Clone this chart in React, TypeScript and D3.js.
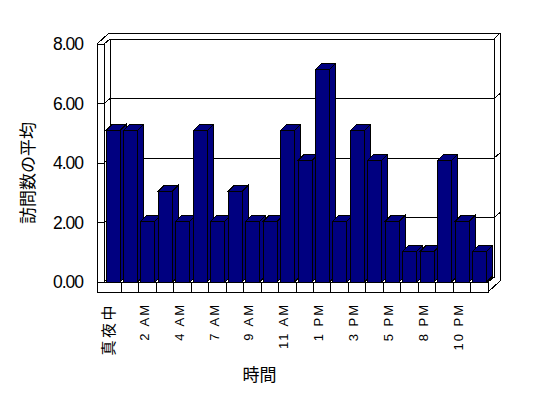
import * as d3 from "d3";

const categories = [
  "真夜中", "1 AM", "2 AM", "3 AM", "4 AM", "5 AM", "7 AM", "8 AM", "9 AM", "10 AM", "11 AM",
  "正午", "1 PM", "2 PM", "3 PM", "4 PM", "5 PM", "6 PM", "8 PM", "9 PM", "10 PM", "11 PM",
];
const visits = [
  5.09, 5.09, 2.04, 3.05, 2.04, 5.09, 2.04, 3.05, 2.04, 2.04, 5.09,
  4.09, 7.14, 2.04, 5.09, 4.09, 2.04, 1.03, 1.03, 4.09, 2.04, 1.03,
];
const yTicks = [0, 2, 4, 6, 8];
const yTitle = "訪問数の平均";
const xTitle = "時間";

const W = 548;
const H = 398;

export default function App() {
  // inner front plane of the 3d box
  const left = 104, right = 488, bottom = 282, top = 44;
  const wallT = 7; // left wall thickness
  const dx = 6, dy = -5; // wall depth
  const bt = 6; // back wall thickness
  const bx = 6, by = -6; // bar depth
  const barW = 14;

  const x = d3.scaleBand<string>().domain(categories).range([left, right]).padding(0);
  const y = d3.scaleLinear().domain([0, 8]).range([bottom, top]);

  const bl = left + dx, br = right + dx; // back wall inner x
  const yb = (v: number) => y(v) + dy;
  const outL = left - wallT;
  const floorB = bottom + 10;
  const jp = "'Noto Sans CJK JP', sans-serif";
  const num = "'Liberation Sans', Arial, sans-serif";
  const isCjk = (s: string) => /[^\x00-\x7f]/.test(s);

  const stroke = { stroke: "#000", strokeWidth: 1, fill: "none" } as const;

  return (
    <svg width={W} height={H} style={{ position: "absolute", left: 0, top: 0, background: "#fff" }}>
      <g shapeRendering="crispEdges">
        {/* back wall */}
        <rect x={bl} y={yb(8)} width={br - bl} height={yb(0) - yb(8)} fill="#fff" stroke="#000" />
        <path d={`M${outL},${top} L${outL + dx + bt},${top + dy - bt} L${br + bt},${top + dy - bt} L${br},${yb(8)}`} {...stroke} />
        <path d={`M${left},${top} L${bl},${yb(8)}`} {...stroke} />
        <path d={`M${br + bt},${top + dy - bt} L${br + bt},${floorB + dy - bt}`} {...stroke} />
        <path d={`M${br},${yb(8)} L${br},${yb(0)}`} {...stroke} />
        {/* left wall */}
        <path d={`M${outL},${top} L${left},${top} M${outL},${top} L${outL},${floorB} M${left},${top} L${left},${bottom}`} {...stroke} />
        <path d={`M${bl},${yb(8)} L${bl},${yb(0)}`} {...stroke} />
        {/* gridlines */}
        {yTicks.filter((v) => v > 0 && v < 8).map((v) => (
          <path
            key={v}
            d={`M${outL},${y(v)} L${left},${y(v)} L${bl},${yb(v)} L${br},${yb(v)} L${br + bt},${yb(v) + dy}`}
            {...stroke}
          />
        ))}
        {/* floor */}
        <path d={`M${left},${bottom} L${right},${bottom} L${br},${yb(0)} L${bl},${yb(0)} Z`} fill="#fff" stroke="#000" />
        <rect x={outL} y={bottom} width={right - outL} height={floorB - bottom} fill="#fff" stroke="#000" />
        {categories.slice(1).map((c) => (
          <line key={c} x1={x(c)} x2={x(c)} y1={bottom} y2={floorB} stroke="#000" />
        ))}
        <path d={`M${right},${bottom} L${br},${yb(0)} M${right},${floorB} L${br + bt},${floorB + dy - bt}`} {...stroke} />
        {/* bars */}
        {categories.map((c, i) => {
          const x0 = (x(c) as number) + 2;
          const x1 = x0 + barW;
          const yt = y(visits[i]);
          return (
            <g key={c} fill="#000080" stroke="#000">
              <path d={`M${x1},${yt} L${x1 + bx},${yt + by} L${x1 + bx},${bottom + by} L${x1},${bottom} Z`} />
              <path d={`M${x0},${yt} L${x0 + bx},${yt + by} L${x1 + bx},${yt + by} L${x1},${yt} Z`} />
              <rect x={x0} y={yt} width={barW} height={bottom - yt} />
            </g>
          );
        })}
      </g>
      {/* y tick labels */}
      {yTicks.map((v) => (
        <text key={v} x={83} y={y(v)} dy="0.35em" textAnchor="end" fill="#000" fontFamily={num} fontSize={17.5} letterSpacing={-1}>
          {v.toFixed(2)}
        </text>
      ))}
      {/* x labels */}
      {categories.map((c, i) =>
        i % 2 === 0 ? (
          <text
            key={c}
            transform={`translate(${(x(c) as number) + x.bandwidth() / 2 - 3.5},303) rotate(-90)`}
            dy="0.35em"
            textAnchor="end"
            fill="#000"
            fontFamily={isCjk(c) ? jp : num}
            fontSize={isCjk(c) ? 15 : 13}
            letterSpacing={isCjk(c) ? 2.5 : 2}
          >
            {c}
          </text>
        ) : null
      )}
      <text transform="translate(28,173) rotate(-90)" dy="0.35em" textAnchor="middle" fill="#000" fontFamily={jp} fontSize={17}>
        {yTitle}
      </text>
      <text x={259.5} y={375.5} dy="0.35em" textAnchor="middle" fill="#000" fontFamily={jp} fontSize={17}>
        {xTitle}
      </text>
    </svg>
  );
}
